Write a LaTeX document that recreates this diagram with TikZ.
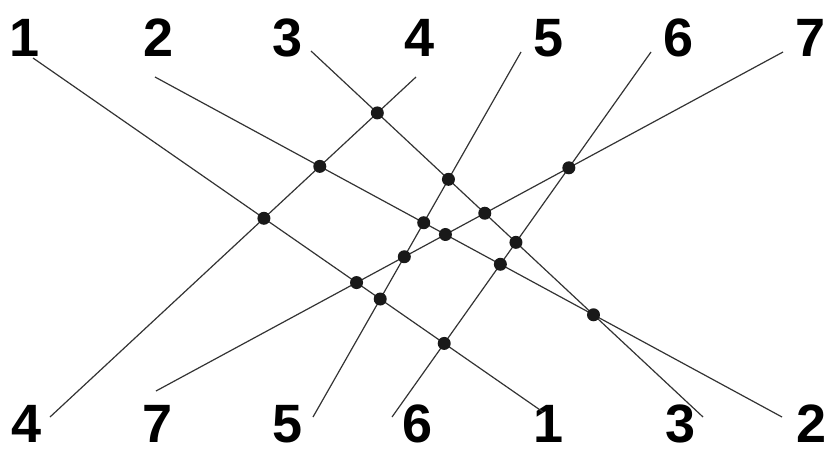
\documentclass[tikz,border=0pt]{standalone}
\usepackage{fontspec}
\setmainfont{Liberation Sans}
\usetikzlibrary{positioning, intersections}

\tikzset{
  wire/.style={line width=1.2pt, color=black!80},
  junction/.style={fill=black!90},
  digit/.style={font=\fontsize{54}{60}\selectfont\bfseries, inner sep=0pt}
}

\begin{document}
\begin{tikzpicture}[x=1pt, y=-1pt]
  \useasboundingbox (0,0) rectangle (826,452);
  % labels, top row
  \node[digit] (lt1) at (25,38)  {1};
  \node[digit] (lt2) at (159,38) {2};
  \node[digit] (lt3) at (288,38) {3};
  \node[digit] (lt4) at (420,38) {4};
  \node[digit] (lt5) at (549,38) {5};
  \node[digit] (lt6) at (679,38) {6};
  \node[digit] (lt7) at (811,38) {7};
  % labels, bottom row
  \node[digit] (lb4) at (27,424)  {4};
  \node[digit] (lb7) at (158,424) {7};
  \node[digit] (lb5) at (288,424) {5};
  \node[digit] (lb6) at (418,424) {6};
  \node[digit] (lb1) at (549,424) {1};
  \node[digit] (lb3) at (681,424) {3};
  \node[digit] (lb2) at (812,424) {2};
  % wire ends
  \coordinate (t1) at (33,58);   \coordinate (b1) at (543,412);
  \coordinate (t2) at (155,77);  \coordinate (b2) at (782,417);
  \coordinate (t3) at (311,51);  \coordinate (b3) at (703,417);
  \coordinate (t4) at (416,77);  \coordinate (b4) at (50,417);
  \coordinate (t5) at (521,52);  \coordinate (b5) at (313,417);
  \coordinate (t6) at (651,52);  \coordinate (b6) at (392,417);
  \coordinate (t7) at (783,52);  \coordinate (b7) at (156,391);
  \foreach \i in {1,...,7}
    \draw[wire, name path global=w\i] (t\i) -- (b\i);
  % crossings
  \foreach \a/\b in {1/4,1/5,1/6,1/7,2/3,2/4,2/5,2/6,2/7,3/4,3/5,3/6,3/7,5/7,6/7}
    \fill[junction, name intersections={of={w\a} and {w\b}}] (intersection-1) circle (6.5pt);
\end{tikzpicture}
\end{document}
